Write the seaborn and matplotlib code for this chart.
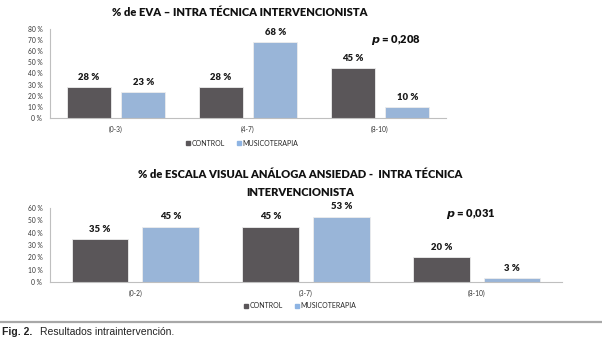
import matplotlib
matplotlib.use("Agg")
import matplotlib.pyplot as plt
import matplotlib.ticker as mticker
from matplotlib.lines import Line2D
import seaborn as sns
import pandas as pd

# Datos: porcentaje de pacientes por rango de puntuación
groups = ["CONTROL", "MUSICOTERAPIA"]

eva_ranges = ["(0-3)", "(4-7)", "(8-10)"]
eva_control = [28, 28, 45]
eva_musico = [23, 68, 10]
eva_p = "0,208"

ans_ranges = ["(0-2)", "(3-7)", "(8-10)"]
ans_control = [35, 45, 20]
ans_musico = [45, 53, 3]
ans_p = "0,031"

colors = {"CONTROL": "#5A5659", "MUSICOTERAPIA": "#8EB4E3"}

sns.set_theme(style="white")
plt.rcParams["font.family"] = ["Lato", "DejaVu Sans"]

W, H = 602, 340
fig = plt.figure(figsize=(W / 100, H / 100), dpi=100)


def px_axes(left, top, right, bottom):
    return fig.add_axes([left / W, 1 - bottom / H, (right - left) / W, (bottom - top) / H])


def panel(ax, ranges, ctrl, mus, ymax, ystep):
    df = pd.DataFrame({
        "rango": ranges * 2,
        "grupo": [groups[0]] * len(ranges) + [groups[1]] * len(ranges),
        "pct": ctrl + mus,
    })
    sns.barplot(data=df, x="rango", y="pct", hue="grupo", palette=colors,
                width=0.83, gap=0.2, ax=ax, legend=False,
                edgecolor="#EDEDED", linewidth=0.6)
    for cont in ax.containers:
        ax.bar_label(cont, labels=[f"{v:.0f} %" for v in cont.datavalues],
                     padding=3.8, fontsize=6.8, fontweight="heavy", color="#1A1A1A")
    ax.set_ylim(0, ymax)
    ax.set_xlim(-0.5, len(ranges) - 0.5)
    ax.yaxis.set_major_locator(mticker.MultipleLocator(ystep))
    ax.yaxis.set_major_formatter(mticker.FuncFormatter(lambda v, _: f"{v:.0f} %"))
    ax.set_xlabel("")
    ax.set_ylabel("")
    for s in ["top", "right"]:
        ax.spines[s].set_visible(False)
    for s in ["left", "bottom"]:
        ax.spines[s].set_color("#BFBFBF")
        ax.spines[s].set_linewidth(0.8)
    ax.tick_params(axis="y", labelsize=4.8, length=0, pad=5.5, colors="#333333")
    ax.tick_params(axis="x", labelsize=4.8, length=0, pad=5.5, colors="#333333")


def legend_at(x, y):
    handles = [Line2D([], [], marker="s", linestyle="", markersize=3.5,
                      color=colors[g]) for g in groups]
    fig.legend(handles, groups, loc="center", bbox_to_anchor=(x / W, 1 - y / H),
               ncol=2, frameon=False, fontsize=5.0, handlelength=0.6,
               handletextpad=0.2, columnspacing=1.8, borderpad=0)


# Panel superior: EVA
ax1 = px_axes(50, 29, 446, 118)
panel(ax1, eva_ranges, eva_control, eva_musico, 80, 10)
fig.text(240 / W, 1 - 12 / H, "% de EVA \u2013 INTRA TÉCNICA INTERVENCIONISTA",
         ha="center", va="center", fontsize=8, fontweight="heavy", color="#111111")
fig.text(396 / W, 1 - 40 / H, f"$\\boldsymbol{{p}}$ = {eva_p}", ha="center", va="center",
         fontsize=8, fontweight="heavy", color="#111111")
legend_at(242, 143)

# Panel inferior: escala visual analógica de ansiedad
ax2 = px_axes(50, 208, 562, 282)
panel(ax2, ans_ranges, ans_control, ans_musico, 60, 10)
fig.text(300 / W, 1 - 175 / H, "% de ESCALA VISUAL ANÁLOGA ANSIEDAD -  INTRA TÉCNICA",
         ha="center", va="center", fontsize=8, fontweight="heavy", color="#111111")
fig.text(300 / W, 1 - 192 / H, "INTERVENCIONISTA",
         ha="center", va="center", fontsize=8, fontweight="heavy", color="#111111")
fig.text(471 / W, 1 - 214 / H, f"$\\boldsymbol{{p}}$ = {ans_p}", ha="center", va="center",
         fontsize=8, fontweight="heavy", color="#111111")
legend_at(300, 306)

# Regla y pie de figura
fig.add_artist(Line2D([0, 1], [1 - 322 / H, 1 - 322 / H], transform=fig.transFigure,
                      color="#A8A8A8", linewidth=1.6))
fig.text(2 / W, 1 - 332 / H, "Fig. 2.", ha="left", va="center", fontsize=7.5,
         fontweight="bold", family=["Liberation Sans", "DejaVu Sans"], color="#222222")
fig.text(40 / W, 1 - 332 / H, "Resultados intraintervención.", ha="left", va="center",
         fontsize=7.5, family=["Liberation Sans", "DejaVu Sans"], color="#222222")

fig.savefig("out.png", dpi=100)
